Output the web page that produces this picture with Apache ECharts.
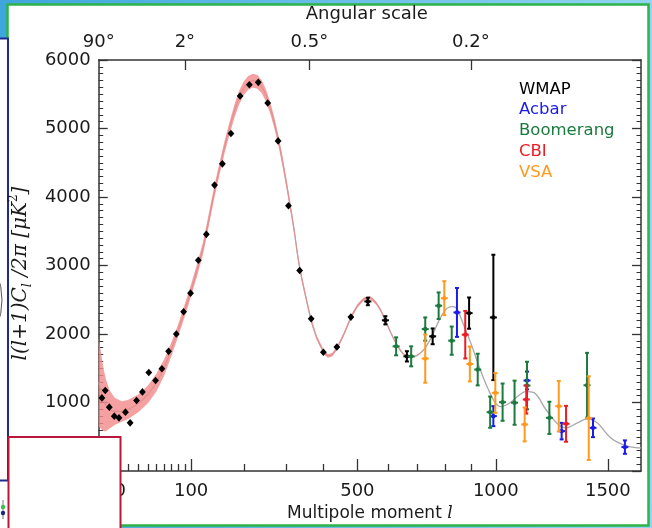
<!DOCTYPE html>
<html>
<head>
<meta charset="utf-8">
<script src="https://cdn.jsdelivr.net/npm/echarts@6/dist/echarts.min.js"></script>
<style>
  html, body { margin: 0; padding: 0; }
  body { width: 652px; height: 528px; overflow: hidden; background: linear-gradient(90deg, #3ea6dc, #92d4f2); }
  #chart { width: 652px; height: 528px; }
</style>
</head>
<body>
<div id="chart"></div>
<script>
// the multipole axis of the reference is spaced like l^0.6, so x values live in that space
const POW = 0.6;
const u = (l) => Math.pow(l, POW);
const lOf = (v) => Math.round(Math.pow(v, 1 / POW));

const lMin = 2;
const lMax = 1663;
const majorTicks = [10, 100, 500, 1000, 1500];
const minorTicks = [3, 4, 5, 6, 7, 8, 9, 20, 30, 40, 50, 60, 70, 80, 90, 200, 300, 400, 600, 700, 800, 900];
const angularTicks = [90, 360, 900];
const angularLabels = [2, 90, 360, 900];

// best-fit model curve and its shaded band
const theoryL = [2, 3, 4, 5, 7, 10, 15, 20, 30, 40, 50, 60, 70, 80, 90, 100, 110, 120, 130, 140,
  150, 160, 170, 180, 190, 200, 210, 220, 230, 240, 250, 260, 270, 280, 290, 300, 310, 320, 330, 340,
  350, 365, 380, 400, 412, 425, 440, 460, 480, 500, 520, 540, 560, 575, 590, 610, 630, 650, 670, 690,
  710, 730, 755, 780, 800, 815, 830, 845, 870, 902, 930, 955, 967, 995, 1020, 1042, 1065, 1091, 1126, 1163,
  1213, 1265, 1304, 1357, 1403, 1449, 1513, 1578, 1646, 1663];
const theoryV = [1300, 1150, 1030, 960, 900, 870, 870, 895, 990, 1120, 1290, 1510, 1780, 2060, 2350, 2640, 2940, 3250, 3650, 4050,
  4400, 4720, 5000, 5250, 5450, 5590, 5670, 5700, 5680, 5610, 5480, 5300, 5080, 4820, 4520, 4190, 3850, 3500, 3100, 2800,
  2550, 2200, 1950, 1740, 1680, 1700, 1810, 2010, 2240, 2410, 2510, 2530, 2450, 2340, 2200, 2000, 1830, 1710, 1665, 1670,
  1720, 1810, 1990, 2210, 2340, 2390, 2400, 2370, 2150, 1845, 1550, 1310, 1213, 1010, 940, 960, 1010, 1090, 1160, 1140,
  898, 689, 630, 703, 762, 703, 485, 379, 339, 338];
const theoryHalf = [650, 540, 450, 380, 280, 200, 150, 140, 130, 130, 130, 120, 100, 90, 90, 90, 90, 90, 90, 90,
  90, 90, 90, 95, 100, 100, 100, 100, 100, 95, 90, 85, 80, 75, 70, 65, 60, 55, 50, 45,
  40, 35, 30, 28, 26, 26, 26, 26, 26, 26, 24, 24, 22, 20, 18, 16, 14, 12, 10, 8,
  6, 4, 2, 0, 0, 0, 0, 0, 0, 0, 0, 0, 0, 0, 0, 0, 0, 0, 0, 0,
  0, 0, 0, 0, 0, 0, 0, 0, 0, 0];

// measurements: multipole, value, 1-sigma
const wmapL = [3.2, 4.7, 6.8, 9.8, 13, 18, 22, 28, 34, 41, 49, 57, 66, 77, 88, 99, 112, 126, 141, 156,
  173, 192, 212, 232, 254, 279, 305, 334, 365, 399, 438, 480, 533, 590, 663, 755, 893, 990];
const wmapV = [1067, 1175, 932, 801, 776, 859, 703, 1029, 1155, 1437, 1321, 1492, 1747, 1999, 2325, 2596, 3077, 3455, 4174, 4484,
  4926, 5475, 5639, 5674, 5373, 4819, 3873, 2927, 2223, 1733, 1810, 2247, 2475, 2200, 1674, 1966, 2305, 2242];
const wmapErr = [0, 0, 0, 0, 0, 0, 0, 0, 0, 0, 0, 0, 0, 0, 0, 0, 0, 0, 0, 0,
  0, 0, 0, 0, 0, 0, 0, 0, 0, 0, 0, 0, 55, 60, 75, 115, 228, 915];

const acbarL = [846, 990, 1131, 1284, 1429, 1583];
const acbarV = [2315, 801, 1321, 582, 630, 349];
const acbarErr = [357, 146, 130, 121, 136, 98];

const boomL = [626, 678, 728, 777, 826, 927, 977, 1028, 1078, 1131, 1229, 1401];
const boomV = [1820, 1674, 2072, 2413, 1903, 1481, 859, 1005, 997, 1248, 776, 1252];
const boomErr = [131, 146, 170, 194, 206, 231, 228, 272, 322, 347, 235, 473];

const cbiL = [878, 1128, 1304];
const cbiV = [1990, 1044, 689];
const cbiErr = [347, 206, 262];

const vsaL = [728, 798, 896, 998, 1121, 1271, 1409];
const vsaV = [1641, 2523, 1562, 1140, 680, 946, 772];
const vsaErr = [352, 248, 255, 291, 248, 368, 611];

const experiments = [
  { name: 'WMAP', color: '#000000', l: wmapL, v: wmapV, err: wmapErr },
  { name: 'Acbar', color: '#1c1ce8', l: acbarL, v: acbarV, err: acbarErr },
  { name: 'Boomerang', color: '#1b7a3e', l: boomL, v: boomV, err: boomErr },
  { name: 'CBI', color: '#ec1c24', l: cbiL, v: cbiV, err: cbiErr },
  { name: 'VSA', color: '#ff9a1f', l: vsaL, v: vsaV, err: vsaErr },
];

const axisColor = '#333';
const textColor = '#1a1a1a';
const sans = 'DejaVu Sans';

function renderPoint(color) {
  return function (params, api) {
    const x = api.value(0);
    const y = api.value(1);
    const e = api.value(2);
    const p = api.coord([x, y]);
    const children = [];
    if (e > 0) {
      const top = api.coord([x, y + e]);
      const bot = api.coord([x, y - e]);
      const line = (x1, y1, x2, y2) => ({
        type: 'line',
        shape: { x1, y1, x2, y2 },
        style: { stroke: color, lineWidth: 2 },
      });
      children.push(line(p[0], top[1], p[0], bot[1]));
      children.push(line(p[0] - 2, top[1], p[0] + 2, top[1]));
      children.push(line(p[0] - 2, bot[1], p[0] + 2, bot[1]));
      children.push(line(p[0] - 3.5, p[1], p[0] + 3.5, p[1]));
      children.push({ type: 'circle', shape: { cx: p[0], cy: p[1], r: 2.2 }, style: { fill: color } });
    } else {
      children.push({
        type: 'polygon',
        shape: { points: [[p[0], p[1] - 3.8], [p[0] + 3.4, p[1]], [p[0], p[1] + 3.8], [p[0] - 3.4, p[1]]] },
        style: { fill: color },
      });
    }
    return { type: 'group', children };
  };
}

// shaded band: upper edge out, lower edge back, placed through the axes
function renderBand(params, api) {
  const last = theoryHalf.findIndex((h, i) => i > 0 && h === 0);
  const idx = theoryL.map((l, i) => i).filter((i) => i <= last);
  const upper = idx.map((i) => api.coord([u(theoryL[i]), theoryV[i] + theoryHalf[i]]));
  const lower = idx.map((i) => api.coord([u(theoryL[i]), theoryV[i] - theoryHalf[i]])).reverse();
  return {
    type: 'polygon',
    shape: { points: upper.concat(lower), smooth: 0 },
    style: { fill: 'rgba(242, 138, 138, 0.8)' },
  };
}

const xBase = {
  type: 'value',
  min: u(lMin),
  max: u(lMax),
  splitLine: { show: false },
};

const chart = echarts.init(document.getElementById('chart'));
chart.setOption({
  animation: false,
  backgroundColor: 'transparent',
  grid: { left: 95, right: 11, top: 58, bottom: 57 },
  legend: {
    orient: 'vertical',
    left: 509,
    top: 74,
    itemWidth: 0,
    itemHeight: 0,
    itemGap: 0,
    selectedMode: false,
    textStyle: { fontFamily: sans, fontSize: 16.5, lineHeight: 20.8 },
    data: experiments.map((e) => ({ name: e.name, textStyle: { color: e.color } })),
  },
  xAxis: [
    {
      ...xBase,
      position: 'bottom',
      axisLine: { lineStyle: { color: axisColor, width: 1.5 } },
      axisTick: { inside: true, length: 12, customValues: majorTicks.map(u), lineStyle: { color: axisColor, width: 1.3 } },
      axisLabel: {
        customValues: majorTicks.map(u),
        formatter: (v) => String(lOf(v)),
        fontFamily: sans, fontSize: 18, color: textColor, margin: 11,
      },
      name: '{a|Multipole moment }{b|l}',
      nameLocation: 'middle',
      nameGap: 33,
      nameTextStyle: {
        rich: {
          a: { fontFamily: sans, fontSize: 17, color: textColor },
          b: { fontFamily: 'DejaVu Serif', fontStyle: 'italic', fontSize: 17, color: textColor },
        },
      },
    },
    {
      ...xBase,
      position: 'bottom',
      axisLine: { show: false },
      axisTick: { inside: true, length: 7, customValues: minorTicks.map(u), lineStyle: { color: axisColor, width: 1.3 } },
      axisLabel: { show: false },
    },
    {
      ...xBase,
      position: 'top',
      axisLine: { lineStyle: { color: axisColor, width: 1.5 } },
      axisTick: { inside: true, length: 10, customValues: angularTicks.map(u), lineStyle: { color: axisColor, width: 1.3 } },
      axisLabel: {
        customValues: angularLabels.map(u),
        formatter: (v) => +(180 / lOf(v)).toFixed(1) + '°',
        fontFamily: sans, fontSize: 18, color: textColor, margin: 9,
      },
      name: 'Angular scale',
      nameLocation: 'middle',
      nameGap: 37,
      nameTextStyle: { fontFamily: sans, fontSize: 18, color: textColor, padding: [0, 6, 0, 0] },
    },
  ],
  yAxis: [
    {
      type: 'value',
      min: 0,
      max: 6000,
      interval: 1000,
      position: 'left',
      splitLine: { show: false },
      axisLine: { show: true, lineStyle: { color: axisColor, width: 1.5 } },
      axisTick: { inside: true, length: 9, lineStyle: { color: axisColor, width: 1.3 } },
      minorTick: { show: true, splitNumber: 10, length: 4.5, lineStyle: { color: axisColor, width: 1 } },
      axisLabel: { fontFamily: sans, fontSize: 18, color: textColor, margin: 8, formatter: (v) => String(v) },
      name: '{t|l(l+1)C}{s|l}{t| /2π [μK}{p|2}{t|]}',
      nameLocation: 'middle',
      nameRotate: 90,
      nameGap: 60,
      nameTextStyle: {
        lineHeight: 26,
        padding: [0, 16, 0, 0],
        rich: {
          t: { fontFamily: 'DejaVu Serif', fontStyle: 'italic', fontSize: 20, color: textColor, verticalAlign: 'middle' },
          s: { fontFamily: 'DejaVu Serif', fontStyle: 'italic', fontSize: 13, color: textColor, verticalAlign: 'bottom' },
          p: { fontFamily: 'DejaVu Serif', fontSize: 12, color: textColor, verticalAlign: 'top' },
        },
      },
    },
    {
      type: 'value',
      min: 0,
      max: 6000,
      interval: 1000,
      position: 'right',
      splitLine: { show: false },
      axisLine: { show: true, lineStyle: { color: axisColor, width: 1.5 } },
      axisTick: { inside: true, length: 9, lineStyle: { color: axisColor, width: 1.3 } },
      minorTick: { show: true, splitNumber: 10, length: 4.5, lineStyle: { color: axisColor, width: 1 } },
      axisLabel: { show: false },
    },
  ],
  series: [
    {
      name: 'model',
      type: 'line',
      smooth: 0.35,
      symbol: 'none',
      z: 1,
      lineStyle: { color: '#a8a8a8', width: 1.3 },
      data: theoryL.map((l, i) => [u(l), theoryV[i]]),
    },
    {
      name: 'band',
      type: 'custom',
      z: 2,
      silent: true,
      clip: true,
      renderItem: renderBand,
      data: [[u(theoryL[0]), theoryV[0]]],
    },
    ...experiments.map((e) => ({
      name: e.name,
      type: 'custom',
      z: 5,
      renderItem: renderPoint(e.color),
      data: e.l.map((l, i) => [u(l), e.v[i], e.err[i]]),
    })),
  ],
  graphic: [
    {
      type: 'rect', z: -10, silent: true,
      shape: { x: 7.5, y: 4.5, width: 641, height: 521 },
      style: { fill: '#fff', stroke: '#2db34a', lineWidth: 2.5 },
    },
    {
      type: 'rect', z: -9, silent: true,
      shape: { x: 0, y: 481, width: 8, height: 47 },
      style: { fill: '#fff' },
    },
    {
      type: 'rect', z: -9, silent: true,
      shape: { x: -20, y: 38.5, width: 28, height: 442 },
      style: { fill: '#fff', stroke: '#1f2a8e', lineWidth: 2 },
    },
    {
      type: 'arc', z: -8, silent: true,
      shape: { cx: -70, cy: 300, r: 72, startAngle: -0.75, endAngle: 0.75 },
      style: { stroke: '#555', lineWidth: 1, fill: null },
    },
    {
      type: 'line', z: -8, silent: true,
      shape: { x1: 3, y1: 500, x2: 3, y2: 519 },
      style: { stroke: '#6a7a8a', lineWidth: 1 },
    },
    { type: 'circle', z: -7, silent: true, shape: { cx: 3, cy: 507, r: 2.2 }, style: { fill: '#3cc04a' } },
    { type: 'circle', z: -7, silent: true, shape: { cx: 3, cy: 513, r: 2.2 }, style: { fill: '#1a2a7a' } },
    {
      type: 'rect', z: 100, silent: true,
      shape: { x: 8.5, y: 437, width: 112, height: 100 },
      style: { fill: '#fff', stroke: '#b8173c', lineWidth: 2 },
    },
  ],
});
</script>
</body>
</html>
